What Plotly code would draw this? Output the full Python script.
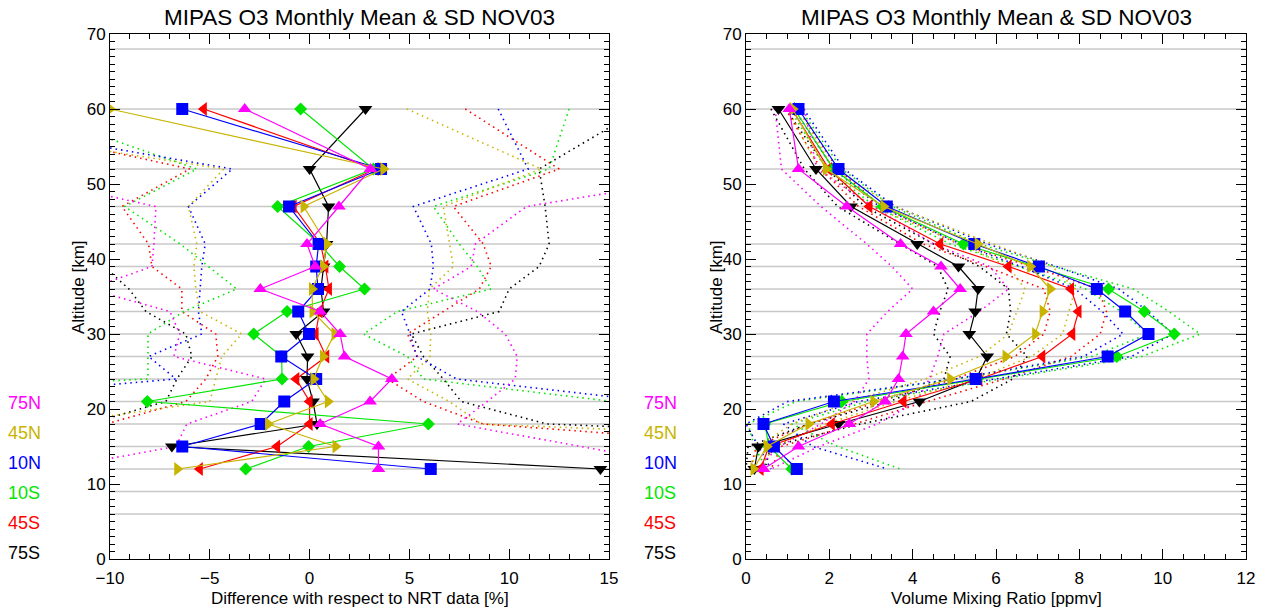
import plotly.graph_objects as go

# ---------------- data ----------------
alts = [60, 52, 47, 42, 39, 36, 33, 30, 27, 24, 21, 18, 15, 12]
grid_levels = [6, 9, 12, 15, 18, 21, 24, 27, 30, 33, 36, 39, 42, 47, 52, 60, 68]
series = ["75N", "45N", "10N", "10S", "45S", "75S"]

# left panel: difference w.r.t. NRT data [%]
diff_75N = [-3.25, 3.05, 1.47, -0.13, 0.28, -2.47, 0.54, 1.53, 1.75, 4.12, 3.03, 0.53, 3.45, 3.45]
diff_45N = [-10.0, 3.70, -0.30, 0.87, 0.67, 0.12, 0.15, 1.25, 0.67, 0.20, 0.92, -2.08, 1.30, -6.63]
diff_10N = [-6.38, 3.58, -1.03, 0.45, 0.33, 0.42, -0.57, -0.03, -1.42, 0.33, -1.27, -2.45, -6.38, 6.07]
diff_10S = [-0.45, 3.20, -1.60, 0.50, 1.50, 2.75, -1.13, -2.80, -1.40, -1.38, -8.13, 5.95, -0.05, -3.20]
diff_45S = [-5.30, 3.30, -0.80, 0.55, 0.79, 0.97, 0.50, 0.30, 0.83, -0.67, 0.00, 0.00, -1.63, -5.50]
diff_75S = [2.80, 0.00, 0.95, 0.85, 0.70, 0.57, 0.70, -0.67, -0.10, -0.13, 0.17, 0.37, -6.90, 14.57]

# left panel: mean - SD and mean + SD
dlo_75N = [-25.0, -16.2, -7.7, -7.8, -7.9, -11.05, -7.0, -6.5, -6.8, -2.2, -2.9, -6.15, -6.7, -12.9]
dhi_75N = [18.5, 22.3, 10.87, 8.3, 8.1, 6.2, 8.4, 9.8, 10.4, 10.3, 8.9, 7.4, 13.6, 19.8]
dlo_45N = [-23.9, -4.3, -6.07, -5.65, -5.8, -5.7, -5.5, -3.4, -4.4, -4.7, -5.0, -12.8, -33.0, -43.0]
dhi_45N = [4.87, 11.6, 6.7, 7.0, 7.2, 6.0, 5.9, 6.07, 6.03, 4.9, 7.0, 8.6, 36.0, 30.0]
dlo_10N = [-21.4, -3.87, -6.07, -5.23, -5.4, -5.5, -5.57, -5.4, -8.07, -6.7, -19.8, -22.5, -26.4, -14.0]
dhi_10N = [9.45, 10.95, 5.2, 6.1, 6.2, 6.03, 4.6, 5.03, 5.37, 7.37, 17.2, 17.5, 16.0, 26.0]
dlo_10S = [-14.35, -5.65, -9.27, -6.48, -5.07, -3.65, -6.3, -8.1, -8.1, -8.1, -31.5, -14.0, -18.0, -22.0]
dhi_10S = [13.0, 12.0, 6.2, 7.5, 8.4, 9.1, 4.4, 2.7, 4.9, 5.7, 15.2, 26.0, 18.0, 16.0]
dlo_45S = [-19.8, -6.0, -9.4, -8.07, -7.9, -6.4, -6.4, -4.7, -4.6, -5.2, -6.2, -10.2, -27.0, -31.0]
dhi_45S = [7.8, 12.5, 7.2, 8.7, 9.1, 8.5, 6.7, 4.9, 5.4, 3.9, 5.7, 8.7, 24.0, 20.0]
dlo_75S = [-11.0, -11.5, -10.4, -10.6, -10.3, -9.05, -8.2, -6.2, -5.9, -6.65, -7.2, -11.1, -55.0, -16.0]
dhi_75S = [16.6, 11.5, 11.8, 12.0, 11.5, 10.0, 9.5, 5.1, 5.7, 6.7, 7.6, 11.9, 41.0, 45.0]

# right panel: volume mixing ratio [ppmv]
vmr_75N = [1.04, 1.26, 2.42, 3.71, 4.68, 5.14, 4.50, 3.84, 3.76, 3.66, 3.34, 2.48, 1.26, 0.42]
vmr_45N = [1.12, 1.92, 3.30, 5.56, 6.82, 7.30, 7.12, 6.94, 6.23, 4.90, 3.06, 1.50, 0.50, 0.18]
vmr_10N = [1.26, 2.22, 3.38, 5.48, 7.03, 8.42, 9.10, 9.66, 8.68, 5.51, 2.11, 0.42, 0.67, 1.22]
vmr_10S = [1.16, 2.10, 3.28, 5.22, 6.95, 8.70, 9.56, 10.28, 8.90, 5.55, 2.30, 0.45, 0.55, 1.10]
vmr_45S = [1.10, 1.99, 2.96, 4.66, 6.30, 7.80, 7.98, 7.83, 7.11, 5.60, 3.78, 2.06, 0.55, 0.35]
vmr_75S = [0.78, 1.68, 2.52, 4.11, 5.10, 5.57, 5.50, 5.36, 5.79, 5.52, 4.16, 2.22, 0.30, 0.20]

vlo_75N = [0.70, 0.85, 1.80, 2.90, 3.50, 4.00, 3.40, 2.90, 2.90, 2.95, 2.60, 1.80, 0.80, 0.25]
vhi_75N = [1.40, 1.70, 3.05, 4.50, 5.85, 6.30, 5.60, 4.75, 4.60, 4.40, 4.10, 3.15, 1.75, 0.60]
vlo_45N = [1.00, 1.75, 3.05, 5.15, 6.30, 6.70, 6.50, 6.30, 5.60, 4.30, 2.50, 1.10, 0.30, 0.10]
vhi_45N = [1.25, 2.10, 3.55, 5.95, 7.35, 7.90, 7.75, 7.60, 6.85, 5.50, 3.60, 1.90, 0.70, 0.28]
vlo_10N = [1.15, 2.10, 3.20, 5.15, 6.60, 7.90, 8.55, 9.05, 8.10, 5.00, 1.00, 0.00, 0.30, 0.60]
vhi_10N = [1.38, 2.35, 3.58, 5.80, 7.45, 8.95, 9.65, 10.25, 9.25, 6.00, 2.70, 0.90, 1.60, 3.40]
vlo_10S = [1.05, 1.95, 3.10, 4.90, 6.55, 8.15, 9.00, 9.65, 8.30, 5.05, 1.20, 0.05, 0.20, 0.50]
vhi_10S = [1.30, 2.30, 3.50, 5.60, 7.40, 9.30, 10.15, 10.90, 9.50, 6.10, 2.90, 1.10, 2.20, 3.70]
vlo_45S = [0.95, 1.80, 2.70, 4.25, 5.75, 7.15, 7.30, 7.15, 6.45, 5.00, 3.20, 1.50, 0.25, 0.10]
vhi_45S = [1.25, 2.20, 3.25, 5.10, 6.85, 8.45, 8.65, 8.50, 7.80, 6.20, 4.35, 2.60, 0.85, 0.60]
vlo_75S = [0.60, 1.40, 2.20, 3.70, 4.60, 4.85, 4.65, 4.50, 4.90, 4.75, 3.45, 1.50, 0.05, 0.00]
vhi_75S = [0.95, 1.95, 2.85, 4.50, 5.60, 6.30, 6.35, 6.25, 6.75, 6.40, 5.40, 2.75, 0.60, 0.45]

left_title = "MIPAS O3 Monthly Mean & SD NOV03"
right_title = "MIPAS O3 Monthly Mean & SD NOV03"
left_xlabel = "Difference with respect to NRT data [%]"
right_xlabel = "Volume Mixing Ratio [ppmv]"
ylabel = "Altitude [km]"

# ---------------- styles ----------------
colors = {"75N": "#FF00FF", "45N": "#C8B400", "10N": "#0000FF",
          "10S": "#00E600", "45S": "#FF0000", "75S": "#000000"}
symbols = {"75N": "triangle-up", "45N": "triangle-right", "10N": "square",
           "10S": "diamond", "45S": "triangle-left", "75S": "triangle-down"}
msize = {"75N": 12, "45N": 12, "10N": 12, "10S": 10, "45S": 12, "75S": 12}
lsize = {"75N": 10, "45N": 10, "10N": 10, "10S": 8, "45S": 10, "75S": 10}

left_data = {"75N": (diff_75N, dlo_75N, dhi_75N), "45N": (diff_45N, dlo_45N, dhi_45N),
             "10N": (diff_10N, dlo_10N, dhi_10N), "10S": (diff_10S, dlo_10S, dhi_10S),
             "45S": (diff_45S, dlo_45S, dhi_45S), "75S": (diff_75S, dlo_75S, dhi_75S)}
right_data = {"75N": (vmr_75N, vlo_75N, vhi_75N), "45N": (vmr_45N, vlo_45N, vhi_45N),
              "10N": (vmr_10N, vlo_10N, vhi_10N), "10S": (vmr_10S, vlo_10S, vhi_10S),
              "45S": (vmr_45S, vlo_45S, vhi_45S), "75S": (vmr_75S, vlo_75S, vhi_75S)}

W, H = 1266, 611
FONT = "Liberation Sans, Arial, Helvetica, sans-serif"

# pixel geometry of the two frames
L_X0, L_X1 = 110, 609
R_X0, R_X1 = 746, 1246
Y_TOP, Y_BOT = 34, 559
left_range = [-10, 15]
right_range = [0, 12]
y_range = [0, 70]

def px_to_val(px, x0, x1, rng):
    return rng[0] + (px - x0) / (x1 - x0) * (rng[1] - rng[0])

def py_to_alt(py):
    return y_range[0] + (Y_BOT - py) / (Y_BOT - Y_TOP) * (y_range[1] - y_range[0])

fig = go.Figure()

draw_order = ["75S", "45S", "10S", "10N", "45N", "75N"]
for data, xa, ya in [(left_data, "x", "y"), (right_data, "x2", "y2")]:
    for s in draw_order:
        mean, lo, hi = data[s]
        for arr in (lo, hi):
            fig.add_trace(go.Scatter(x=arr, y=alts, mode="lines", xaxis=xa, yaxis=ya,
                                     line=dict(color=colors[s], width=1.6, dash="1.5px,4px"),
                                     showlegend=False, hoverinfo="skip", cliponaxis=True))
    for s in draw_order:
        mean, lo, hi = data[s]
        fig.add_trace(go.Scatter(x=mean, y=alts, mode="lines+markers", xaxis=xa, yaxis=ya,
                                 line=dict(color=colors[s], width=1.2),
                                 marker=dict(symbol=symbols[s], size=msize[s], color=colors[s],
                                             line=dict(width=0)),
                                 showlegend=False, cliponaxis=True))

# legend (markers placed left of each frame, outside the axis range)
legend_rows_py = [400, 429, 459, 489, 520, 550]
legend_text_py = [403, 433, 463, 493, 523, 553]
legend_marker_px = {"x": 55, "x2": 691}
legend_text_px = [24, 660]
for xa, ya, x0, x1, rng in [("x", "y", L_X0, L_X1, left_range), ("x2", "y2", R_X0, R_X1, right_range)]:
    mx = px_to_val(legend_marker_px[xa], x0, x1, rng)
    for s, py in zip(series, legend_rows_py):
        fig.add_trace(go.Scatter(x=[mx], y=[py_to_alt(py)], mode="markers", xaxis=xa, yaxis=ya,
                                 marker=dict(symbol=symbols[s], size=lsize[s], color=colors[s]),
                                 showlegend=False, hoverinfo="skip", cliponaxis=False))

# ---------------- layout ----------------
left_dom = [L_X0 / W, L_X1 / W]
right_dom = [R_X0 / W, R_X1 / W]
y_dom = [(H - Y_BOT) / H, (H - Y_TOP) / H]

axis_common = dict(showline=True, linecolor="black", linewidth=1, mirror="allticks",
                   ticks="inside", ticklen=10, tickwidth=1, tickcolor="black",
                   showgrid=False, zeroline=False, automargin=False,
                   tickfont=dict(family=FONT, size=17, color="black"))
xminor = dict(ticks="inside", ticklen=5, tickcolor="black")

fig.update_layout(
    width=W, height=H, plot_bgcolor="white", paper_bgcolor="white",
    margin=dict(l=0, r=0, t=0, b=0, autoexpand=False), showlegend=False,
    xaxis=dict(domain=left_dom, range=left_range, dtick=5, tick0=0, anchor="y",
               ticklabelstandoff=4, minor=dict(dtick=1, **xminor), **axis_common),
    yaxis=dict(domain=y_dom, range=y_range, dtick=10, anchor="x",
               minor=dict(dtick=1, **xminor), **axis_common),
    xaxis2=dict(domain=right_dom, range=right_range, dtick=2, anchor="y2",
                ticklabelstandoff=4, minor=dict(dtick=0.5, **xminor), **axis_common),
    yaxis2=dict(domain=y_dom, range=y_range, dtick=10, anchor="x2",
                minor=dict(dtick=1, **xminor), **axis_common),
)

shapes = []
for xr, yr in [("x domain", "y"), ("x2 domain", "y2")]:
    for g in grid_levels:
        shapes.append(dict(type="line", xref=xr, yref=yr, x0=0, x1=1, y0=g, y1=g,
                           line=dict(color="#C8C8C8", width=1.6), layer="below"))
fig.update_layout(shapes=shapes)

ann = []
for dom, title, xl in [(left_dom, left_title, left_xlabel), (right_dom, right_title, right_xlabel)]:
    cx = (dom[0] + dom[1]) / 2
    ann.append(dict(text=title, x=cx, y=(H - 18) / H, xref="paper", yref="paper",
                    showarrow=False, font=dict(family=FONT, size=22.5, color="black"),
                    xanchor="center", yanchor="middle"))
    ann.append(dict(text=xl, x=cx, y=(H - 598) / H, xref="paper", yref="paper",
                    showarrow=False, font=dict(family=FONT, size=17, color="black"),
                    xanchor="center", yanchor="middle"))
for yx in [78, 716]:
    ann.append(dict(text=ylabel, x=yx / W, y=(H - 287) / H, xref="paper", yref="paper",
                    showarrow=False, textangle=-90, font=dict(family=FONT, size=17, color="black"),
                    xanchor="center", yanchor="middle"))
for tx in legend_text_px:
    for s, py in zip(series, legend_text_py):
        ann.append(dict(text=s, x=tx / W, y=(H - py) / H, xref="paper", yref="paper",
                        showarrow=False, font=dict(family=FONT, size=18, color=colors[s]),
                        xanchor="center", yanchor="middle"))
fig.update_layout(annotations=ann)

fig.write_html("out.html", config={"displayModeBar": False, "staticPlot": True},
               post_script="document.body.style.margin='0';document.body.style.padding='0';"
                           "document.documentElement.style.overflow='hidden';")
